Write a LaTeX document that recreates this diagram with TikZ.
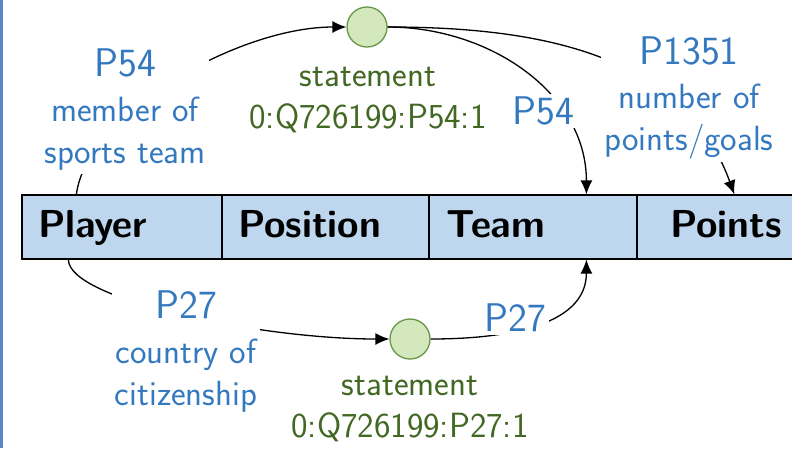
\documentclass[tikz,border=0pt]{standalone}
\usetikzlibrary{arrows.meta}
\renewcommand{\familydefault}{\sfdefault}
\definecolor{propblue}{RGB}{52,121,192}
\definecolor{stmtgreen}{RGB}{66,104,36}
\definecolor{nodefill}{RGB}{212,232,190}
\definecolor{nodeline}{RGB}{104,150,72}
\definecolor{cellfill}{RGB}{190,215,238}
\definecolor{barblue}{RGB}{88,136,200}
\tikzset{
  cell/.style={draw=black, line width=1.2pt, fill=cellfill, minimum height=64pt,
    inner ysep=0pt, align=left, text height=27pt, text depth=6pt,
    font=\sffamily\fontsize{39}{46}\selectfont\bfseries},
  stmtnode/.style={circle, draw=nodeline, line width=1.3pt, fill=nodefill,
    minimum size=40pt, inner sep=0pt},
  link/.style={draw=black, line width=1.3pt, -{Latex[length=14pt,width=12pt]}},
  plabel/.style={fill=white, inner sep=3pt, align=center, text=propblue,
    font=\sffamily\fontsize{35}{42}\selectfont},
  slabel/.style={fill=white, inner sep=3pt, align=center, text=stmtgreen,
    font=\sffamily\fontsize{35}{42}\selectfont},
}
\newcommand{\pid}[1]{{\fontsize{40}{44}\selectfont #1}}
\begin{document}
\begin{tikzpicture}[x=1pt, y=-1pt, font=\sffamily]
  \clip (0,0) rectangle (792,448);
  \useasboundingbox (0,0) rectangle (792,448);
  % frame edge on the left
  \fill[barblue] (0,0) rectangle (3,448);

  % table row
  \node[cell, text width=168pt, inner xsep=16pt] (player)   at (122,227)   {Player};
  \node[cell, text width=175pt, inner xsep=16pt] (position) at (325.5,227) {Position};
  \node[cell, text width=174pt, inner xsep=17pt] (team)     at (533,227)   {Team};
  \node[cell, text width=142pt, inner xsep=33pt] (points)   at (741,227)   {Points};

  % statement nodes
  \node[stmtnode] (s1) at (367,27) {};
  \node[stmtnode] (s2) at (410,339) {};

  % connectors
  \draw[link] ([xshift=55pt]player.north west) .. controls +(10,-80) and +(-130,0) .. (s1);
  \draw[link] (s1) to[out=0, in=90] ([xshift=158pt]team.north west);
  \draw[link] (s1) to[out=0, in=110] ([xshift=98pt]points.north west);
  \draw[link] ([xshift=47pt]player.south west) .. controls +(0,40) and +(-150,0) .. (s2);
  \draw[link] (s2) to[out=0, in=-90] ([xshift=158pt]team.south west);

  % labels
  \node[plabel] (l54) at (125,110) {\pid{P54}\\[3pt]member of\\sports team};
  \node[slabel] (st1) at (368,100) {statement\\0:Q726199:P54:1};
  \node[plabel] (r54) at (543,111) {\pid{P54}};
  \node[plabel] (l1351) at (689,98) {\pid{P1351}\\[2pt]number of\\points/goals};
  \node[plabel] (l27) at (186,352) {\pid{P27}\\[3pt]country of\\citizenship};
  \node[plabel] (r27) at (515,318) {\pid{P27}};
  \node[slabel] (st2) at (410,409) {statement\\0:Q726199:P27:1};
\end{tikzpicture}
\end{document}
